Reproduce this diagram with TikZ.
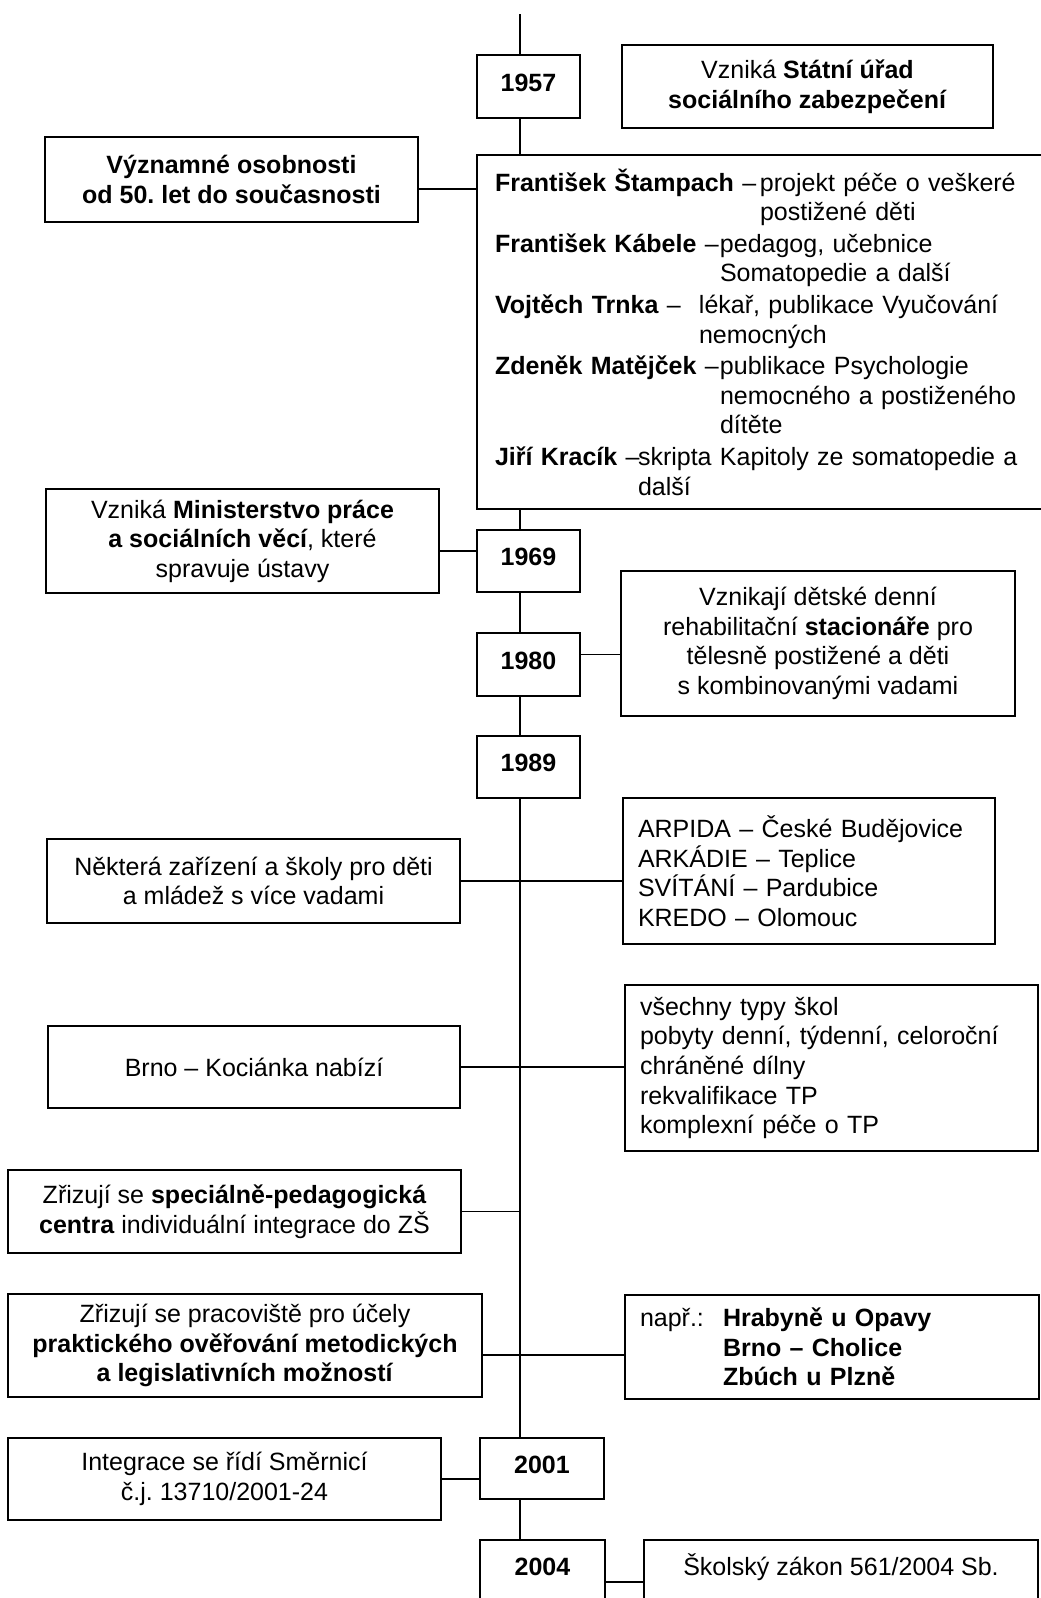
\documentclass[tikz,border=0pt]{standalone}
\usepackage{fontspec}
\setmainfont{Liberation Sans}
\frenchspacing
\newcommand*{\osoba}[3]{\hangindent=#1\hangafter=1\noindent\makebox[#1][l]{\textbf{#2} --}#3\par}

\begin{document}
\begin{tikzpicture}[
        x=1pt,y=-1pt,
        every node/.style={font=\fontsize{25}{29.6}\selectfont, outer sep=0pt},
        box/.style={draw, line width=2.1pt, anchor=north west, inner sep=0pt, align=center},
        year/.style={box, font=\fontsize{25}{29.6}\selectfont\bfseries, text height=18pt, text depth=9pt},
        list/.style={box, align=left, inner xsep=15pt},
        link/.style={line width=1.9pt},
        ]

        \useasboundingbox (0,0) rectangle (1041,1598);
        \clip (0,0) rectangle (1041,1598);
        \coordinate (tl) at (520,14);

        \node[year, minimum width=103, minimum height=63] (y_1957) at (477,55) {1957};
        \node[box, minimum width=371, minimum height=83] (stat) at (622,45) {Vzniká \textbf{Státní úřad}\\\textbf{sociálního zabezpečení}};
        \node[box, font=\fontsize{25}{29.6}\selectfont\bfseries, minimum width=373, minimum height=85] (osob) at (45,137) {Významné osobnosti\\od 50. let do současnosti};
        \node[list, inner xsep=18pt, text width=564pt, minimum height=354] (ppl) at (477,155) {\setlength{\parskip}{2pt}%
          \osoba{265pt}{František Štampach}{projekt péče o veškeré\newline postižené děti}
          \osoba{225pt}{František Kábele}{pedagog, učebnice\newline Somatopedie a další}
          \osoba{204pt}{Vojtěch Trnka}{lékař, publikace Vyučování\newline nemocných}
          \osoba{225pt}{Zdeněk Matějček}{publikace Psychologie\newline nemocného a postiženého\newline dítěte}
          \osoba{143pt}{Jiří Kracík}{skripta Kapitoly ze somatopedie a\newline další}};
        \node[box, minimum width=393, minimum height=104] (min) at (46,489) {Vzniká \textbf{Ministerstvo práce}\\\textbf{a sociálních věcí}, které\\spravuje ústavy};
        \node[year, minimum width=103, minimum height=62] (y_1969) at (477,530) {1969};
        \node[box, minimum width=394, minimum height=145] (stac) at (621,571) {Vznikají dětské denní\\rehabilitační \textbf{stacionáře} pro\\tělesně postižené a děti\\s kombinovanými vadami};
        \node[year, minimum width=103, minimum height=63] (y_1980) at (477,633) {1980};
        \node[year, minimum width=103, minimum height=62] (y_1989) at (477,736) {1989};
        \node[list, text width=342pt, minimum height=146] (arp) at (623,798) {ARPIDA -- České Budějovice\\ARKÁDIE -- Teplice\\SVÍTÁNÍ -- Pardubice\\KREDO -- Olomouc};
        \node[box, minimum width=413, minimum height=84] (nek) at (47,839) {Některá zařízení a školy pro děti\\a mládež s více vadami};
        \node[list, text width=383pt, minimum height=166] (vse) at (625,985) {všechny typy škol\\pobyty denní, týdenní, celoroční\\chráněné dílny\\rekvalifikace TP\\komplexní péče o TP};
        \node[box, minimum width=412, minimum height=82] (brno) at (48,1026) {Brno -- Kociánka nabízí};
        \node[box, minimum width=453, minimum height=83] (spc) at (8,1170) {Zřizují se \textbf{speciálně-pedagogická}\\\textbf{centra} individuální integrace do ZŠ};
        \node[box, minimum width=474, minimum height=103] (prac) at (8,1294) {Zřizují se pracoviště pro účely\\\textbf{praktického ověřování metodických}\\\textbf{a legislativních možností}};
        \node[list, text width=384pt, minimum height=104] (napr) at (625,1295) {\makebox[83pt][l]{např.:}\textbf{Hrabyně u Opavy}\\\hspace*{83pt}\textbf{Brno -- Cholice}\\\hspace*{83pt}\textbf{Zbúch u Plzně}};
        \node[box, minimum width=433, minimum height=82] (integ) at (8,1438) {Integrace se řídí Směrnicí\\č.j. 13710/2001-24};
        \node[year, minimum width=124, minimum height=61] (y_2001) at (480,1438) {2001};
        \node[year, minimum width=125, minimum height=61] (y_2004) at (480,1540) {2004};
        \node[box, minimum width=394, text height=18pt, text depth=65pt, inner ysep=17pt] (skol) at (644,1540) {Školský zákon 561/2004 Sb.};

        \draw[link] (tl) -- (tl |- y_1957.north)
          (tl |- y_1957.south) -- (tl |- ppl.north)
          (tl |- ppl.south) -- (tl |- y_1969.north)
          (tl |- y_1969.south) -- (tl |- y_1980.north)
          (tl |- y_1980.south) -- (tl |- y_1989.north)
          (tl |- y_1989.south) -- (tl |- y_2001.north)
          (tl |- y_2001.south) -- (tl |- y_2004.north);
        \draw[link] ([yshift=-9.5pt]osob.east) -- ([yshift=-9.5pt]osob.east -| ppl.west);
        \draw[link] ([yshift=-10pt]min.east) -- ([yshift=-10pt]min.east -| y_1969.west);
        \draw[link] ([yshift=10pt]y_1980.east) -- ([yshift=10pt]y_1980.east -| stac.west);
        \draw[link] (nek.east) -- (nek.east -| arp.west);
        \draw[link] (brno.east) -- (brno.east -| vse.west);
        \draw[link] (spc.east) -- (spc.east -| tl);
        \draw[link] ([yshift=-9.5pt]prac.east) -- ([yshift=-9.5pt]prac.east -| napr.west);
        \draw[link] (integ.east) -- (integ.east -| y_2001.west);
        \draw[link] ([yshift=-11.5pt]y_2004.east) -- ([yshift=-11.5pt]y_2004.east -| skol.west);
      \end{tikzpicture}
\end{document}
